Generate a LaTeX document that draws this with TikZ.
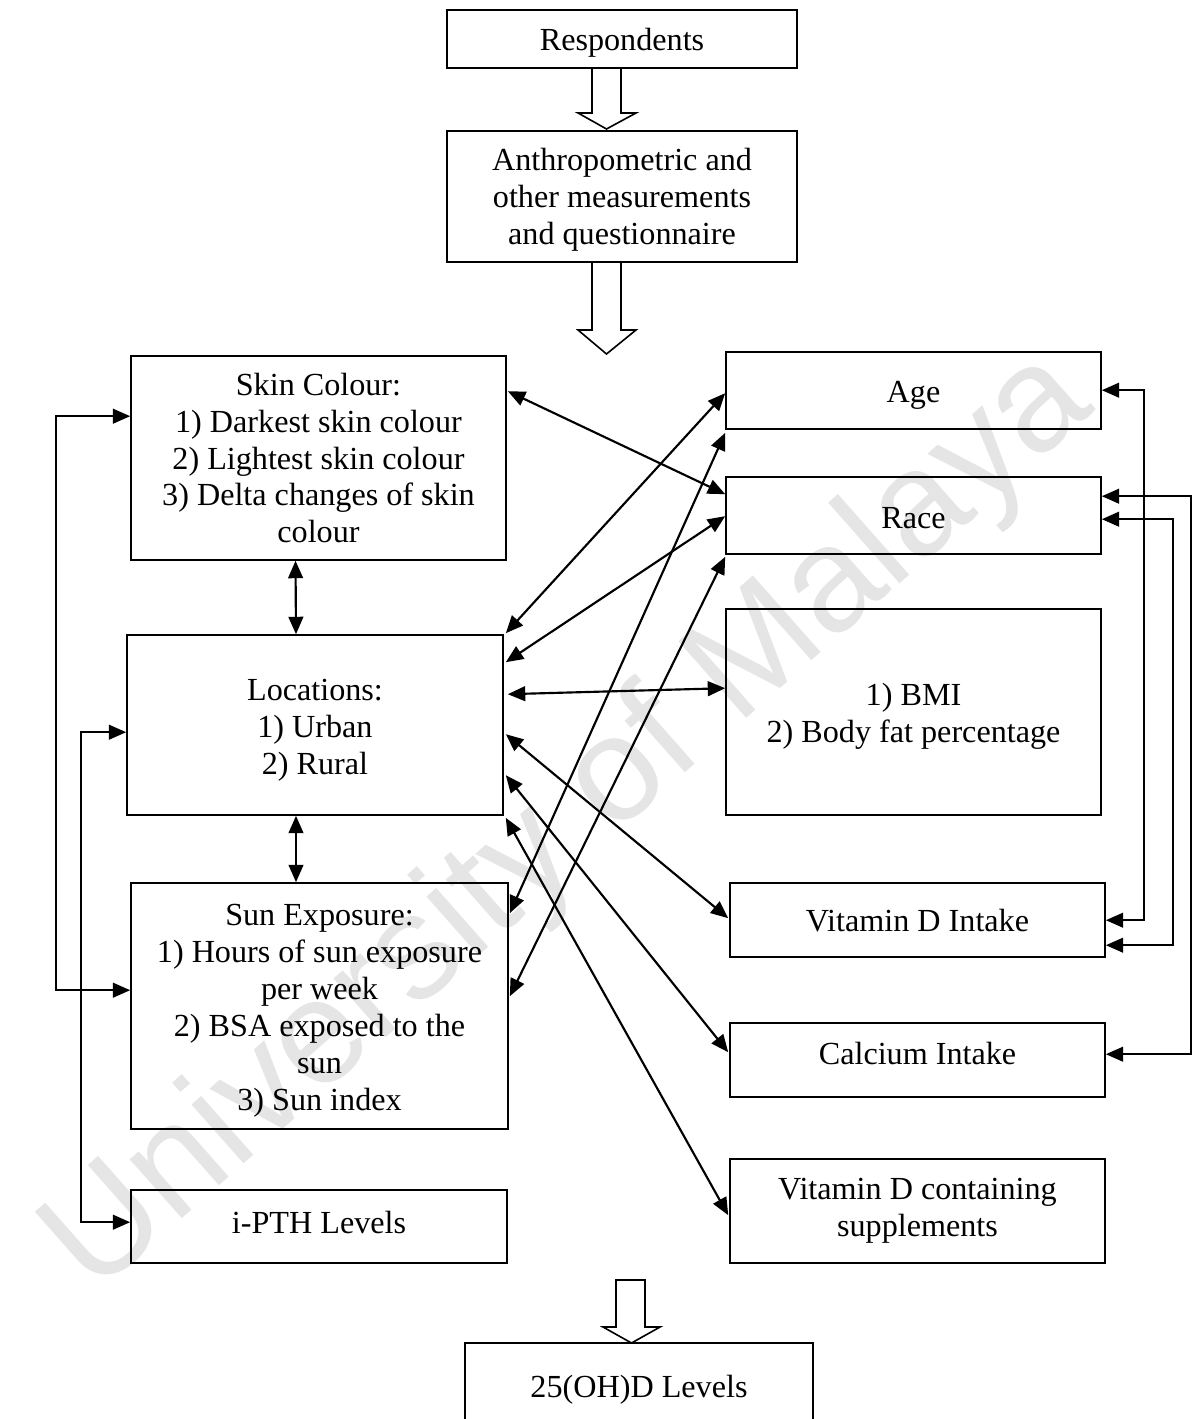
\documentclass[tikz,border=0pt]{standalone}
\usepackage{fontspec}
\setmainfont{Liberation Serif}
\newfontfamily\wmfont{Liberation Sans}
\usetikzlibrary{arrows.meta,calc}
\newlength\pu
\setlength\pu{0.37313pt}
\begin{document}
\begin{tikzpicture}[x=\pu,y=-\pu,
  box/.style={draw,line width=0.6pt,inner sep=0pt},
  txt/.style={align=center,inner sep=0pt,font=\fontsize{12}{13.8}\selectfont},
  sz/.style 2 args={minimum width=#1*\pu,minimum height=#2*\pu},
  link/.style={line width=0.8pt,{Triangle[length=6.5pt,width=5.5pt]}-{Triangle[length=6.5pt,width=5.5pt]}},
  hollow/.style={draw,fill=white,line width=0.6pt,line join=miter},
  wmark/.style={text=black!10,font=\wmfont\fontsize{55.5}{60}\selectfont,rotate=41.5}]
\useasboundingbox (0,0) rectangle (1195,1419);
\clip (0,0) rectangle (1195,1419);
\node[wmark] (wm) at (570,824) {University of Malaya};
% boxes
\node[box,sz={350}{58}] (resp) at (622,39) {};
\node[box,sz={350}{131}] (anth) at (622,196.5) {};
\node[box,sz={375}{204}] (skin) at (318.5,458) {};
\node[box,sz={376}{180}] (loc) at (315,725) {};
\node[box,sz={377}{246}] (sun) at (319.5,1006) {};
\node[box,sz={376}{73}] (ipth) at (319,1226.5) {};
\node[box,sz={375}{77}] (age) at (913.5,390.5) {};
\node[box,sz={375}{77}] (race) at (913.5,515.5) {};
\node[box,sz={375}{206}] (bmi) at (913.5,712) {};
\node[box,sz={375}{74}] (vitd) at (917.5,920) {};
\node[box,sz={375}{74}] (calcium) at (917.5,1060) {};
\node[box,sz={375}{104}] (supp) at (917.5,1211) {};
\node[box,sz={348}{88}] (res) at (639,1387) {};
% texts
\node[txt] (respt) at ($(resp)+(0,4)$) {Respondents};
\node[txt] (antht) at ($(anth)+(0,3)$) {Anthropometric and\\other measurements\\and questionnaire};
\node[txt] (skint) at ($(skin)+(0,0)$) {Skin Colour:\\1) Darkest skin colour\\2) Lightest skin colour\\3) Delta changes of skin\\colour};
\node[txt] (loct) at ($(loc)+(0,5)$) {Locations:\\1) Urban\\2) Rural};
\node[txt] (sunt) at ($(sun)+(0,5)$) {Sun Exposure:\\1) Hours of sun exposure\\per week\\2) BSA exposed to the\\sun\\3) Sun index};
\node[txt] (iptht) at ($(ipth)+(0,-4)$) {i-PTH Levels};
\node[txt] (aget) at ($(age)+(0,5)$) {Age};
\node[txt] (racet) at ($(race)+(0,3)$) {Race};
\node[txt] (bmit) at ($(bmi)+(0,4)$) {1) BMI\\2) Body fat percentage};
\node[txt] (vitdt) at ($(vitd)+(0,1)$) {Vitamin D Intake};
\node[txt] (calciumt) at ($(calcium)+(0,-7)$) {Calcium Intake};
\node[txt] (suppt) at ($(supp)+(0,0)$) {Vitamin D containing\\supplements};
\node[txt] (rest) at ($(res)+(0,3)$) {25(OH)D Levels};
% hollow arrows
\draw[hollow] (592,68) -- (592,113) -- (578,113) -- (606.5,129) -- (636,113) -- (621,113) -- (621,68) -- cycle;
\draw[hollow] (592,262) -- (592,330) -- (578,330) -- (606.5,354) -- (636,330) -- (621,330) -- (621,262) -- cycle;
\draw[hollow] (616,1280) -- (616,1327) -- (603,1327) -- (631.5,1343) -- (660,1327) -- (645,1327) -- (645,1280) -- cycle;
% vertical links
\draw[link] ($(skin.south)+(-23,0)$) -- ($(loc.north)+(-19,0)$);
\draw[link] ($(loc.south)+(-19,0)$) -- ($(sun.north)+(-23.5,0)$);
% left elbows
\draw[link] ($(skin.north west)+(0,61)$) -- ++(-74,0) |- ($(sun.north west)+(0,108)$);
\draw[link] ($(loc.north west)+(0,98)$) -- ++(-45,0) |- ($(ipth.north west)+(0,33)$);
% right elbows
\draw[link] ($(age.north east)+(0,39)$) -- ++(42,0) |- ($(vitd.north east)+(0,38)$);
\draw[link] ($(race.north east)+(0,20)$) -- ++(89,0) |- ($(calcium.north east)+(0,32)$);
\draw[link] ($(race.north east)+(0,43)$) -- ++(71,0) |- ($(vitd.north east)+(0,63)$);
% diagonals
\draw[link] ($(skin.north east)+(1,36)$) -- ($(race.north west)+(0,18)$);
\draw[link] ($(age.north west)+(0,42)$) -- ($(loc.north east)+(2,-1)$);
\draw[link] ($(race.north west)+(0,40)$) -- ($(loc.north east)+(2,28)$);
\draw[link] ($(age.south west)+(0,3)$) -- ($(sun.north east)+(1,31)$);
\draw[link] ($(race.south west)+(0,2)$) -- ($(sun.north east)+(1,114)$);
\draw[link] ($(loc.north east)+(4,60)$) -- ($(bmi.north west)+(0,80)$);
\draw[link] ($(loc.north east)+(2,100)$) -- ($(vitd.north west)+(-1,36)$);
\draw[link] ($(loc.north east)+(2,141)$) -- ($(calcium.north west)+(-1,30)$);
\draw[link] ($(loc.south east)+(2,2)$) -- ($(supp.north west)+(-1,57)$);
\end{tikzpicture}
\end{document}
